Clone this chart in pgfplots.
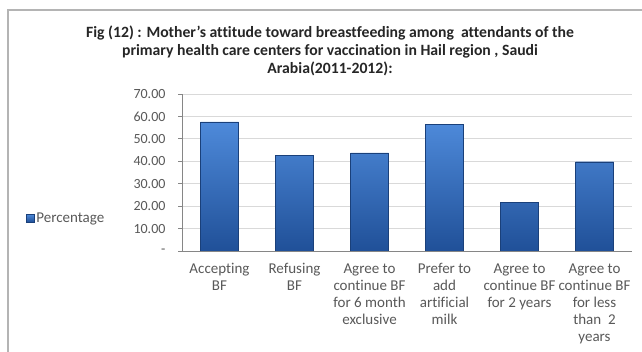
\documentclass[border=0pt]{standalone}
\usepackage{pgfplots}
\pgfplotsset{compat=1.18}
\usepackage{fontspec}
\setmainfont{Carlito}[Ligatures=NoCommon]
\definecolor{gridc}{RGB}{217,217,217}
\definecolor{axc}{RGB}{134,134,134}
\definecolor{txt}{RGB}{89,89,89}
\definecolor{bartop}{RGB}{78,138,218}
\definecolor{barbot}{RGB}{32,80,152}
\definecolor{frame}{RGB}{180,180,180}
\begin{document}
\begin{tikzpicture}[x=1pt,y=1pt]
\useasboundingbox (0,0) rectangle (642,352);
\fill[white] (0,0) rectangle (642,352);
\draw[frame, line width=1.6pt] (8,0) -- (8,342) -- (642,342);
\node[align=center, font=\fontsize{15.7}{18}\selectfont\bfseries, text=black!85] at (330,301)
 {Fig (12) : Mother's attitude toward breastfeeding among\ \ attendants of the\\
  primary health care centers for vaccination in Hail region , Saudi\\
  Arabia(2011-2012):};
\begin{axis}[
  at={(182pt,101pt)}, anchor=south west,
  scale only axis, width=450pt, height=157pt,
  xmin=-0.5, xmax=5.5, ymin=0, ymax=70,
  axis x line*=bottom, axis y line*=left,
  axis line style={axc, line width=0.8pt},
  ytick={0,10,...,70},
  yticklabels={-\hspace{6pt},10.00,20.00,30.00,40.00,50.00,60.00,70.00},
  ymajorgrids, grid style={gridc, line width=0.8pt},
  major tick length=4pt,
  ytick style={axc, line width=0.8pt},
  y tick label style={font=\fontsize{14}{16}\selectfont, text=txt, xshift=-9pt},
  /pgf/number format/assume math mode=true,
  xtick={0,...,5},
  major x tick style={draw=none},
  extra x ticks={-0.5,0.5,1.5,2.5,3.5,4.5,5.5},
  extra x tick labels={},
  extra x tick style={major tick length=4pt, tick style={axc, line width=0.8pt, draw=axc}, tick align=outside, grid=none},
  xticklabels={{Accepting\\BF},{Refusing\\BF},{Agree to\\continue BF\\for 6 month\\exclusive},{Prefer to\\add\\artificial\\milk},{Agree to\\continue BF\\for 2 years},{Agree to\\continue BF\\for less\\than\ \ 2\\years}},
  x tick label style={align=center, font=\fontsize{15}{17}\selectfont, text=txt, anchor=north, yshift=-5pt},
  tick align=outside,
  legend style={at={(-0.347,0.21)}, anchor=west, draw=none, fill=none, font=\fontsize{15}{16}\selectfont, text=txt, inner sep=0pt},
  legend image code/.code={\fill[top color=bartop, bottom color=barbot] (0pt,-4pt) rectangle (8pt,4pt);},
]
\addplot[ybar, bar width=38pt, draw=barbot!80!black, line width=0.3pt, top color=bartop, bottom color=barbot] coordinates {
(0,57.6) (1,42.7) (2,43.8) (3,56.5) (4,21.7) (5,39.8)};
\addlegendentry{Percentage}
\end{axis}
\end{tikzpicture}
\end{document}
